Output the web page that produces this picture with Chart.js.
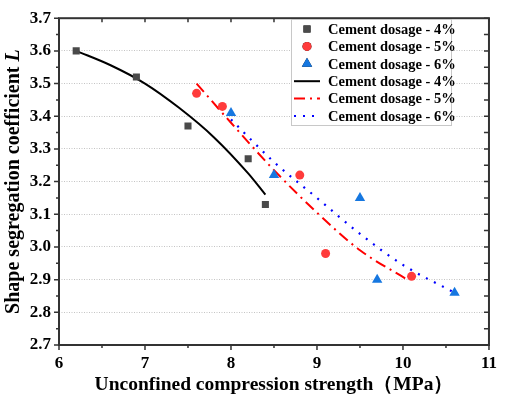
<!DOCTYPE html>
<html lang="en">
<head>
  <meta charset="UTF-8">
  <title>Shape segregation vs UCS</title>
  <script src="https://cdn.jsdelivr.net/npm/chart.js"></script>
  <style>
    html, body { margin: 0; padding: 0; background: #fff; }
    #wrap { width: 505px; height: 398px; }
  </style>
</head>
<body>
  <div id="wrap"><canvas id="ucsChart" width="505" height="398"></canvas></div>

  <script>
    // measured points
    const ucs4 = [6.2, 6.9, 7.5, 8.2, 8.4];
    const seg4 = [3.60, 3.52, 3.37, 3.27, 3.13];
    const ucs5 = [7.6, 7.9, 8.8, 9.1, 10.1];
    const seg5 = [3.47, 3.43, 3.22, 2.98, 2.91];
    const ucs6 = [8.0, 8.5, 9.5, 9.7, 10.6];
    const seg6 = [3.41, 3.22, 3.15, 2.90, 2.86];

    // fitted curves
    const fit4X = [6.2, 6.6, 7.0, 7.4, 7.8, 8.2, 8.4];
    const fit4Y = [3.60, 3.556, 3.50, 3.425, 3.336, 3.225, 3.16];
    const fit5X = [7.6, 8.0, 8.5, 9.0, 9.5, 10.05];
    const fit5Y = [3.50, 3.38, 3.235, 3.105, 2.99, 2.90];
    const fit6X = [8.0, 8.5, 9.0, 9.5, 10.0, 10.6];
    const fit6Y = [3.39, 3.26, 3.15, 3.04, 2.945, 2.86];

    const xTicks = [6, 7, 8, 9, 10, 11];
    const yTicks = [2.7, 2.8, 2.9, 3.0, 3.1, 3.2, 3.3, 3.4, 3.5, 3.6, 3.7];

    const labels = ['Cement dosage - 4%', 'Cement dosage - 5%', 'Cement dosage - 6%'];
    const yTitle = 'Shape segregation coefficient ';
    const yTitleVar = 'L';

    const toXY = (xs, ys) => xs.map((x, i) => ({ x: x, y: ys[i] }));

    const FONT = "'Liberation Serif', 'Times New Roman', serif";

    // box + ticks, Origin style
    const framePlugin = {
      id: 'frame',
      afterDatasetsDraw(chart) {
        const { ctx, chartArea: a, scales } = chart;
        const xs = scales.x, ys = scales.y;
        ctx.save();
        ctx.strokeStyle = '#333';
        ctx.lineWidth = 2;
        ctx.strokeRect(a.left, a.top, a.right - a.left, a.bottom - a.top);
        ctx.lineWidth = 1.5;
        ctx.beginPath();
        for (let v = 6; v <= 11.001; v += 0.5) {
          const px = xs.getPixelForValue(v);
          const major = Math.abs(v - Math.round(v)) < 1e-6;
          const len = major ? 5 : 3;
          ctx.moveTo(px, a.bottom); ctx.lineTo(px, a.bottom + len);
          ctx.moveTo(px, a.top); ctx.lineTo(px, a.top + 4);
        }
        for (let i = 0; i <= 20; i++) {
          const v = 2.7 + i * 0.05;
          const py = ys.getPixelForValue(v);
          const major = i % 2 === 0;
          const len = major ? 5 : 3;
          ctx.moveTo(a.left, py); ctx.lineTo(a.left - len, py);
          ctx.moveTo(a.right, py); ctx.lineTo(a.right - 5, py);
        }
        ctx.stroke();
        ctx.restore();
      }
    };

    // y title with italic L
    const yTitlePlugin = {
      id: 'yTitle',
      afterDraw(chart) {
        const { ctx, chartArea: a } = chart;
        ctx.save();
        ctx.translate(14, (a.top + a.bottom) / 2);
        ctx.rotate(-Math.PI / 2);
        ctx.fillStyle = '#000';
        ctx.textBaseline = 'middle';
        const f1 = 'bold 20px ' + FONT, f2 = 'italic bold 20px ' + FONT;
        ctx.font = f1;
        const w1 = ctx.measureText(yTitle).width;
        ctx.font = f2;
        const w2 = ctx.measureText(yTitleVar).width;
        const x0 = -(w1 + w2) / 2;
        ctx.font = f1;
        ctx.fillText(yTitle, x0, 0);
        ctx.font = f2;
        ctx.fillText(yTitleVar, x0 + w1, 0);
        ctx.restore();
      }
    };

    // legend inside the plot area, top right
    const boxLegend = {
      id: 'boxLegend',
      afterDraw(chart) {
        const { ctx } = chart;
        const ds = chart.data.datasets;
        const bx = 291, by = 19, bw = 160, bh = 106;
        ctx.save();
        ctx.fillStyle = '#fff';
        ctx.fillRect(bx, by, bw, bh);
        ctx.strokeStyle = '#c8c8c8';
        ctx.lineWidth = 1;
        ctx.strokeRect(bx + 0.5, by + 0.5, bw, bh);
        ctx.font = 'bold 14.5px ' + FONT;
        ctx.textBaseline = 'middle';
        ctx.fillStyle = '#000';
        ds.forEach((d, i) => {
          const cy = 29 + i * 17.4;
          if (d.showLine) {
            ctx.save();
            ctx.strokeStyle = d.borderColor;
            ctx.lineWidth = d.borderWidth;
            ctx.setLineDash(d.borderDash || []);
            ctx.beginPath();
            ctx.moveTo(294, cy);
            ctx.lineTo(320, cy);
            ctx.stroke();
            ctx.restore();
          } else {
            Chart.helpers.drawPoint(ctx, {
              pointStyle: d.pointStyle,
              radius: d.pointRadius,
              borderWidth: 0
            }, 307, cy);
            ctx.fillStyle = d.backgroundColor;
            ctx.fill();
            ctx.fillStyle = '#000';
          }
          ctx.fillText(d.label, 328, cy + 1);
        });
        ctx.restore();
      }
    };

    const ctx = document.getElementById('ucsChart').getContext('2d');
    new Chart(ctx, {
      type: 'scatter',
      data: {
        datasets: [
          { label: labels[0], data: toXY(ucs4, seg4), pointStyle: 'rect', pointRadius: 5,
            backgroundColor: '#4a4a4a', borderWidth: 0, order: 1 },
          { label: labels[1], data: toXY(ucs5, seg5), pointStyle: 'circle', pointRadius: 4.5,
            backgroundColor: '#ff3b3b', borderWidth: 0, order: 1 },
          { label: labels[2], data: toXY(ucs6, seg6), pointStyle: 'triangle', pointRadius: 6,
            backgroundColor: '#1677e0', borderWidth: 0, order: 1 },
          { label: labels[0], data: toXY(fit4X, fit4Y), showLine: true, pointRadius: 0,
            borderColor: '#000', borderWidth: 2, tension: 0.4, cubicInterpolationMode: 'monotone', order: 2 },
          { label: labels[1], data: toXY(fit5X, fit5Y), showLine: true, pointRadius: 0,
            borderColor: '#ff0000', borderWidth: 2, borderDash: [11, 5, 2, 5], tension: 0.4,
            cubicInterpolationMode: 'monotone', order: 2 },
          { label: labels[2], data: toXY(fit6X, fit6Y), showLine: true, pointRadius: 0,
            borderColor: '#0000ff', borderWidth: 2.2, borderDash: [2, 7], tension: 0.4,
            cubicInterpolationMode: 'monotone', order: 2 }
        ]
      },
      options: {
        responsive: false,
        animation: false,
        layout: { padding: { top: 9, right: 11, left: 0, bottom: 0 } },
        plugins: {
          legend: { display: false },
          tooltip: { enabled: false }
        },
        scales: {
          x: {
            type: 'linear',
            min: 6, max: 11,
            afterBuildTicks: (s) => { s.ticks = xTicks.map(v => ({ value: v })); },
            afterFit: (s) => { s.height = 53; },
            grid: { display: false, drawTicks: false },
            border: { display: false },
            ticks: {
              color: '#000',
              padding: 8,
              maxRotation: 0,
              font: { family: FONT, size: 17, weight: 'bold' }
            },
            title: {
              display: true,
              text: 'Unconfined compression strength（MPa）',
              color: '#000',
              padding: { top: 0, bottom: 1 },
              font: { family: FONT, size: 19.5, weight: 'bold' }
            }
          },
          y: {
            type: 'linear',
            min: 2.7, max: 3.7,
            afterBuildTicks: (s) => { s.ticks = yTicks.map(v => ({ value: v })); },
            afterFit: (s) => { s.width = 59; },
            grid: {
              color: '#c4c4c4',
              lineWidth: 1,
              drawTicks: false
            },
            border: { display: false, dash: [1, 1.5] },
            ticks: {
              color: '#000',
              padding: 8,
              font: { family: FONT, size: 17, weight: 'bold' },
              callback: (v) => Number(v).toFixed(1)
            },
            title: { display: false }
          }
        }
      },
      plugins: [framePlugin, yTitlePlugin, boxLegend]
    });
  </script>
</body>
</html>
